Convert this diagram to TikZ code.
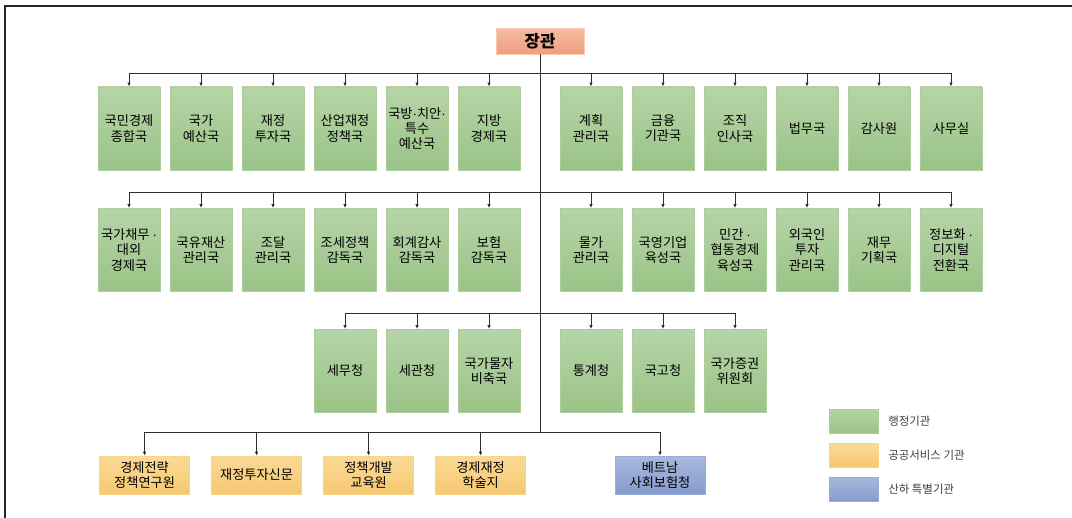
\documentclass[tikz,border=0pt]{standalone}
\usepackage{fontspec}
\setmainfont{Noto Sans CJK KR}
\newfontfamily\latinfont{Liberation Sans}
\usetikzlibrary{arrows.meta}

\definecolor{grtop}{RGB}{182,212,168}
\definecolor{grbot}{RGB}{154,195,134}
\definecolor{grline}{RGB}{172,206,156}
\definecolor{ortop}{RGB}{250,218,152}
\definecolor{orbot}{RGB}{246,200,112}
\definecolor{orline}{RGB}{248,212,135}
\definecolor{bltop}{RGB}{168,184,222}
\definecolor{blbot}{RGB}{134,156,206}
\definecolor{blline}{RGB}{152,172,216}
\definecolor{sltop}{RGB}{246,188,162}
\definecolor{slbot}{RGB}{238,158,126}
\definecolor{slline}{RGB}{248,202,178}
\definecolor{wirecol}{RGB}{45,45,45}

\newcommand{\ndot}{{\latinfont ·}}

\begin{document}
\begin{tikzpicture}[x=0.75pt,y=-0.75pt]
    \tikzset{
        box/.style={inner sep=0.5pt, align=center, font=\fontsize{9.9}{11.4}\selectfont},
        unit/.style={box, draw=grline, top color=grtop, bottom color=grbot,
            minimum width=46.5pt, minimum height=62.5pt},
        agency/.style={box, draw=orline, top color=ortop, bottom color=orbot,
            minimum width=67.5pt, minimum height=28.5pt},
        special/.style={box, draw=blline, top color=bltop, bottom color=blbot,
            minimum width=67.5pt, minimum height=28.5pt},
        swatch/.style={minimum width=36.75pt, minimum height=18pt, inner sep=0pt},
        legendtext/.style={anchor=west, inner sep=0pt, text=black!75,
            font=\fontsize{8.6}{10}\selectfont},
        wire/.style={draw=wirecol, line width=0.7pt},
        arr/.style={wire, -{Latex[length=3pt,width=2.6pt]}}
    }
    \useasboundingbox (0,0) rectangle (1072,518);
    \draw[line width=0.8pt, black!85] (5,518) -- (5,6) -- (1072,6);

    % minister
    \node[draw=slline, top color=sltop, bottom color=slbot, minimum width=66pt,
        minimum height=19.5pt, font=\fontsize{12.5}{14}\selectfont\bfseries] (jg) at (540,41) {장관};

    % trunk points
    \coordinate (t1) at (540,73);
    \coordinate (t2) at (540,192);
    \coordinate (t3) at (540,313);
    \coordinate (t4) at (540,432);

    % row 1
    \foreach \x/\t [count=\i] in {129/{국민경제\\종합국}, 201/{국가\\예산국}, 273/{재정\\투자국},
            345/{산업재정\\정책국}, 417/{국방\ndot 치안\ndot\\특수\\예산국}, 489/{지방\\경제국}}
        \node[unit] (a\i) at (\x,128.5) {\t};
    \foreach \x/\t [count=\i] in {591/{계획\\관리국}, 663/{금융\\기관국}, 735/{조직\\인사국},
            807/{법무국}, 879/{감사원}, 951/{사무실}}
        \node[unit] (b\i) at (\x,128.5) {\t};

    % row 2
    \foreach \x/\t [count=\i] in {129/{국가채무 \ndot\\대외\\경제국}, 201/{국유재산\\관리국}, 273/{조달\\관리국},
            345/{조세정책\\감독국}, 417/{회계감사\\감독국}, 489/{보험\\감독국}}
        \node[unit] (c\i) at (\x,250) {\t};
    \foreach \x/\t [count=\i] in {591/{물가\\관리국}, 663/{국영기업\\육성국}, 735/{민간 \ndot\\협동경제\\육성국},
            807/{외국인\\투자\\관리국}, 879/{재무\\기획국}, 951/{정보화 \ndot\\디지털\\전환국}}
        \node[unit] (d\i) at (\x,250) {\t};

    % row 3
    \foreach \x/\t [count=\i] in {345/{세무청}, 417/{세관청}, 489/{국가물자\\비축국}}
        \node[unit] (e\i) at (\x,371) {\t};
    \foreach \x/\t [count=\i] in {591/{통계청}, 663/{국고청}, 735/{국가증권\\위원회}}
        \node[unit] (f\i) at (\x,371) {\t};

    % row 4
    \foreach \x/\t [count=\i] in {144.6/{경제전략\\정책연구원}, 256.6/{재정투자신문},
            368.6/{정책개발\\교육원}, 480.6/{경제재정\\학술지}}
        \node[agency] (g\i) at (\x,475) {\t};
    \node[special] (h) at (660,475) {베트남\\사회보험청};

    % connectors
    \draw[wire] (jg.south) -- (t4);
    \draw[wire] (a1.north |- t1) -- (b6.north |- t1);
    \draw[wire] (c1.north |- t2) -- (d6.north |- t2);
    \draw[wire] (e1.north |- t3) -- (f3.north |- t3);
    \draw[wire] (g1.north |- t4) -- (h.north |- t4);
    \foreach \i in {1,...,6} {
        \draw[arr] (a\i.north |- t1) -- (a\i.north);
        \draw[arr] (b\i.north |- t1) -- (b\i.north);
        \draw[arr] (c\i.north |- t2) -- (c\i.north);
        \draw[arr] (d\i.north |- t2) -- (d\i.north);
    }
    \foreach \i in {1,...,3} {
        \draw[arr] (e\i.north |- t3) -- (e\i.north);
        \draw[arr] (f\i.north |- t3) -- (f\i.north);
    }
    \foreach \i in {1,...,4}
        \draw[arr] (g\i.north |- t4) -- (g\i.north);
    \draw[arr] (h.north |- t4) -- (h.north);

    % legend
    \node[swatch, draw=grline, top color=grtop, bottom color=grbot] (k1) at (853.5,421) {};
    \node[swatch, draw=orline, top color=ortop, bottom color=orbot] (k2) at (853.5,455) {};
    \node[swatch, draw=blline, top color=bltop, bottom color=blbot] (k3) at (853.5,489) {};
    \node[legendtext] (l1) at (888,421) {행정기관};
    \node[legendtext] (l2) at (888,455) {공공서비스 기관};
    \node[legendtext] (l3) at (888,489) {산하 특별기관};
\end{tikzpicture}
\end{document}
